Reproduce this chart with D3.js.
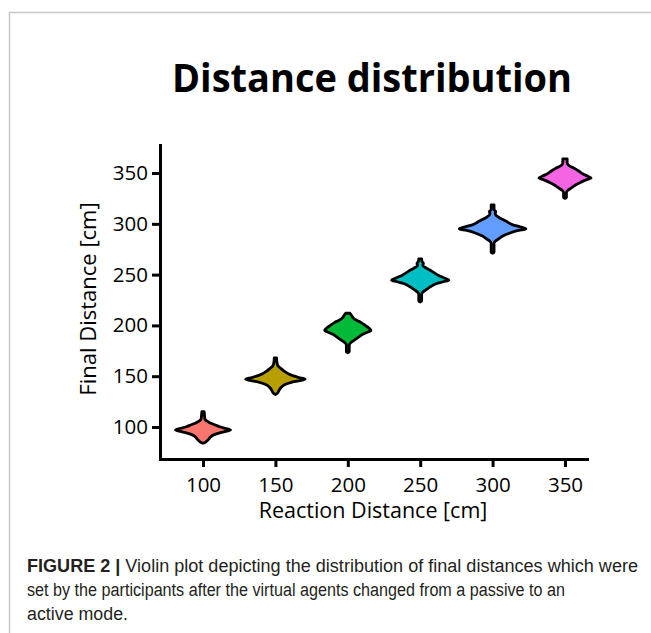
<!DOCTYPE html>
<html>
<head>
<meta charset="utf-8">
<script src="https://cdn.jsdelivr.net/npm/d3@7"></script>
<style>
  body { margin: 0; background: #fff; }
  svg { display: block; }
</style>
</head>
<body>
<svg id="chart" width="651" height="633"></svg>
<script>
// groups on the x axis and their fill colours
var reactionDistances = [100, 150, 200, 250, 300, 350];
var fills = ["#F8766D", "#B79F00", "#00BA38", "#00BFC4", "#619CFF", "#F564E3"];
var yTicks = [100, 150, 200, 250, 300, 350];
var xTicks = [100, 150, 200, 250, 300, 350];

// violin outlines: [final distance, half width (cm on x axis)]
var violin100 = [[115,0.8],[112,1],[108,1.3],[106,2.5],[104,5],[102,8.5],[100,12],[98.5,16],[97,19],[95.5,15],[94,11],[92,7],[90,5],[88,4],[86,2.5],[84.5,1],[84,0]];
var violin150 = [[168,0.8],[164,1],[160,1.8],[158,3.5],[155,6],[152,9.5],[150,13],[148.5,17],[147,20.5],[145.5,16],[144,11],[142,7],[139,4],[136,2.5],[133,1.2],[132,0]];
var violin200 = [[212,1.5],[210,2.5],[207,4],[205,6],[203,9],[200,12],[197.5,14.5],[195,16],[193,13],[191,10],[188,7],[185,4],[183,2],[181,1],[174,1],[173,0]];
var violin250 = [[265.5,1],[263,1.2],[261,2.2],[259,1.8],[257,3.5],[255,6],[252,9.5],[249,13],[246.5,17],[244.5,19.8],[243,16],[241,11],[238,7],[235,4],[233,2],[231,1],[224,1],[223,0]];
var violin300 = [[318.7,1],[314,1],[312,2.2],[310,1.8],[307,3.5],[305,6],[302,10],[299,14],[297,19],[295,23],[293.5,18],[291,12],[288,7],[285,4],[283,2],[281,1],[272,1],[271,0]];
var violin350 = [[364,1.5],[360,1.5],[357,3],[355,6],[352,9.5],[349,12.5],[347,15.5],[345,18],[343.5,15],[341,11],[338,7],[335,4],[333,2],[331,1],[326,1],[325,0]];
var violins = [violin100, violin150, violin200, violin250, violin300, violin350];

var captionLines = [
  ["FIGURE 2 | ", "Violin plot depicting the distribution of final distances which were"],
  ["", "set by the participants after the virtual agents changed from a passive to an"],
  ["", "active mode."]
];
var captionWidths = [611, 538, 101];

var svg = d3.select("#chart");

// thin frame at top and left
svg.append("line").attr("x1", 9).attr("y1", 12.5).attr("x2", 651).attr("y2", 12.5)
  .attr("stroke", "#c8c8c8").attr("stroke-width", 1.5);
svg.append("line").attr("x1", 9.5).attr("y1", 12).attr("x2", 9.5).attr("y2", 633)
  .attr("stroke", "#c8c8c8").attr("stroke-width", 1.5);

svg.append("text")
  .attr("x", 372).attr("y", 92)
  .attr("text-anchor", "middle")
  .style("font-family", "'Open Sans', sans-serif")
  .style("font-weight", 700)
  .style("font-size", "40px")
  .attr("textLength", 400)
  .attr("lengthAdjust", "spacingAndGlyphs")
  .text("Distance distribution");

var x = d3.scaleLinear().domain([70.3, 365.2]).range([160, 587]);
var y = d3.scaleLinear().domain([68.5, 377.6]).range([459, 145]);

// violins
var area = d3.area()
  .curve(d3.curveMonotoneY)
  .y(function (d) { return y(d[0]); });

svg.selectAll(".violin").data(violins).enter()
  .append("path")
  .attr("class", "violin")
  .attr("d", function (d, i) {
    var c = reactionDistances[i];
    return area
      .x0(function (p) { return x(c - p[1]); })
      .x1(function (p) { return x(c + p[1]); })(d);
  })
  .attr("fill", function (d, i) { return fills[i]; })
  .attr("stroke", "#000")
  .attr("stroke-width", 2.8)
  .attr("stroke-linejoin", "round");

// axes
var yAxis = svg.append("g")
  .attr("transform", "translate(160,0)")
  .call(d3.axisLeft(y).tickValues(yTicks).tickSize(8).tickSizeOuter(0).tickPadding(4));
var xAxis = svg.append("g")
  .attr("transform", "translate(0,459)")
  .call(d3.axisBottom(x).tickValues(xTicks).tickSize(8).tickSizeOuter(0).tickPadding(10));

[yAxis, xAxis].forEach(function (g) {
  g.select(".domain").attr("stroke-width", 3).attr("stroke-linecap", "square");
  g.selectAll(".tick line").attr("stroke-width", 3);
  g.selectAll(".tick text")
    .attr("fill", "#000")
    .style("font-family", "'Open Sans', sans-serif")
    .style("font-size", "20.5px");
});

svg.append("text")
  .attr("x", 373).attr("y", 518)
  .attr("text-anchor", "middle")
  .style("font-family", "'Open Sans', sans-serif")
  .style("font-size", "21.5px")
  .text("Reaction Distance [cm]");

svg.append("text")
  .attr("transform", "translate(96,299) rotate(-90)")
  .attr("text-anchor", "middle")
  .style("font-family", "'Open Sans', sans-serif")
  .style("font-size", "22px")
  .text("Final Distance [cm]");

// caption
captionLines.forEach(function (line, i) {
  var t = svg.append("text")
    .attr("x", 27).attr("y", 572 + i * 24)
    .attr("fill", "#231f20")
    .style("font-family", "'Liberation Sans', Arial, sans-serif")
    .style("font-size", "18px")
    .attr("textLength", captionWidths[i])
    .attr("lengthAdjust", "spacingAndGlyphs");
  if (line[0]) t.append("tspan").style("font-weight", 700).text(line[0]);
  t.append("tspan").text(line[1]);
});
</script>
</body>
</html>
